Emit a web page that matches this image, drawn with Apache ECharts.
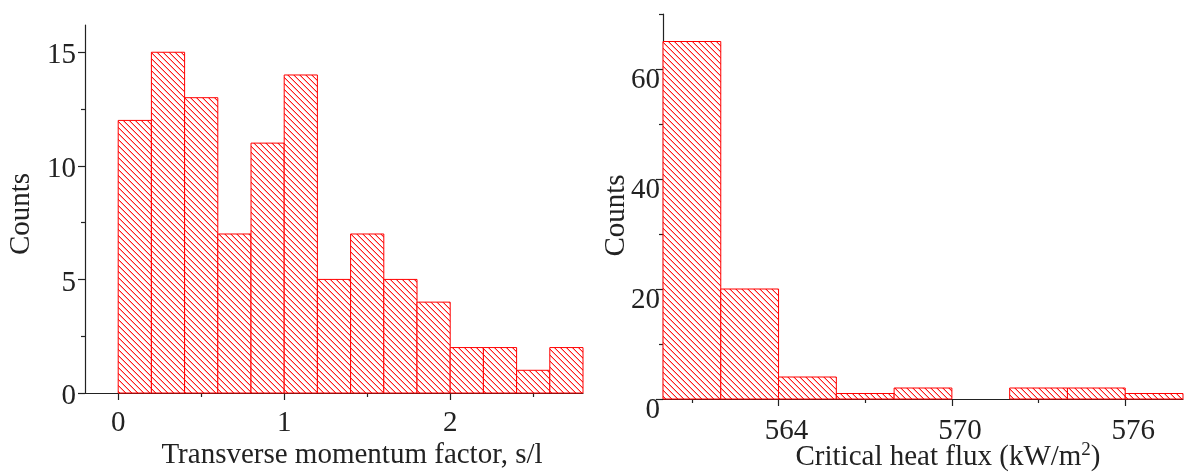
<!DOCTYPE html>
<html>
<head>
<meta charset="utf-8">
<script src="https://cdn.jsdelivr.net/npm/echarts@6/dist/echarts.min.js"></script>
<style>html,body{margin:0;padding:0;background:#fff}#c{width:1184px;height:473px}</style>
</head>
<body>
<div id="c"></div>
<script>
// ---- Data ----
const leftBinEdges = [0, 0.2, 0.4, 0.6, 0.8, 1.0, 1.2, 1.4, 1.6, 1.8, 2.0, 2.2, 2.4, 2.6, 2.8];
const leftCounts = [12, 15, 13, 7, 11, 14, 5, 7, 5, 4, 2, 2, 1, 2];
const rightBinEdges = [560, 562, 564, 566, 568, 570, 572, 574, 576, 578];
const rightCounts = [65, 20, 4, 1, 2, 0, 2, 2, 1];

const leftXTicks = [0, 1, 2];
const leftXMinor = [0.5, 1.5, 2.5];
const leftYTicks = [0, 5, 10, 15];
const leftYMinor = [2.5, 7.5, 12.5];
const rightXTicks = [564, 570, 576];
const rightXMinor = [561, 567, 573];
const rightYTicks = [0, 20, 40, 60];
const rightYMinor = [10, 30, 50, 70];

const leftXTitle = 'Transverse momentum factor, s/l';
const rightXTitle = 'Critical heat flux (kW/m{sup|2})';
const yTitle = 'Counts';

// ---- Build ----
function binData(edges, counts) {
  return counts.map((c, i) => [edges[i], edges[i + 1], c]);
}

function makeHatch() {
  const s = 6;
  const cv = document.createElement('canvas');
  cv.width = s; cv.height = s;
  const ctx = cv.getContext('2d');
  ctx.fillStyle = '#ffffff';
  ctx.fillRect(0, 0, s, s);
  for (let i = 0; i < s; i++) {
    ctx.fillStyle = '#ff1a1a';
    ctx.fillRect(i, (i + 3) % s, 1, 1);
    ctx.fillStyle = '#ffb0b0';
    ctx.fillRect(i, (i + 4) % s, 1, 1);
  }
  return cv;
}
const hatch = { image: makeHatch(), repeat: 'repeat' };

const font = 'Liberation Serif';
const axisColor = '#222';
const textColor = '#222';

function renderBin(params, api) {
  const v2 = api.value(2);
  if (!v2) return null;
  const p0 = api.coord([api.value(0), 0]);
  const p1 = api.coord([api.value(1), v2]);
  return {
    type: 'rect',
    shape: { x: p0[0], y: p1[1], width: p1[0] - p0[0], height: p0[1] - p1[1] },
    style: { fill: hatch, stroke: '#ff0000', lineWidth: 1 }
  };
}

function mainX(gridIndex, min, max, ticks, labelMargin, labelPad, name, nameGap, padLeft) {
  return {
    type: 'value', gridIndex, min, max, position: 'bottom',
    axisLine: { show: true, onZero: false, lineStyle: { color: axisColor, width: 1.2 } },
    axisTick: { show: true, length: 7, customValues: ticks, lineStyle: { color: axisColor, width: 1.2 } },
    axisLabel: { show: true, customValues: ticks, margin: labelMargin, padding: [0, 0, 0, labelPad],
                 color: textColor, fontFamily: font, fontSize: 29 },
    splitLine: { show: false },
    name, nameLocation: 'middle', nameGap, nameMoveOverlap: false,
    nameTextStyle: {
      color: textColor, fontFamily: font, fontSize: 29, padding: [0, 0, 0, padLeft],
      rich: { sup: { fontFamily: font, fontSize: 19, color: textColor, padding: [0, 0, 14, 0], verticalAlign: 'bottom' } }
    }
  };
}
function minorX(gridIndex, min, max, ticks) {
  return {
    type: 'value', gridIndex, min, max, position: 'bottom',
    axisLine: { show: false, onZero: false },
    axisTick: { show: true, length: 4, customValues: ticks, lineStyle: { color: axisColor, width: 1.2 } },
    axisLabel: { show: false }, splitLine: { show: false }
  };
}
function mainY(gridIndex, min, max, ticks, labelMargin, labelPadTop, nameGap, padRight) {
  return {
    type: 'value', gridIndex, min, max, position: 'left',
    axisLine: { show: true, onZero: false, lineStyle: { color: axisColor, width: 1.2 } },
    axisTick: { show: true, length: 7, customValues: ticks, lineStyle: { color: axisColor, width: 1.2 } },
    axisLabel: {
      show: true, customValues: ticks, margin: labelMargin,
      formatter: v => '{a|' + v + '}',
      rich: { a: { color: textColor, fontFamily: font, fontSize: 29, padding: [labelPadTop, 0, 0, 0] } }
    },
    splitLine: { show: false },
    name: yTitle, nameLocation: 'middle', nameGap, nameRotate: 90, nameMoveOverlap: false,
    nameTextStyle: { color: textColor, fontFamily: font, fontSize: 29, padding: [0, padRight, 0, 0] }
  };
}
function minorY(gridIndex, min, max, ticks) {
  return {
    type: 'value', gridIndex, min, max, position: 'left',
    axisLine: { show: false, onZero: false },
    axisTick: { show: true, length: 4, customValues: ticks, lineStyle: { color: axisColor, width: 1.2 } },
    axisLabel: { show: false }, splitLine: { show: false }
  };
}

const chart = echarts.init(document.getElementById('c'), null, { renderer: 'canvas' });
chart.setOption({
  animation: false,
  backgroundColor: '#ffffff',
  grid: [
    { left: 85, top: 25, width: 498, height: 368, outerBoundsMode: 'none', containLabel: false },
    { left: 663, top: 14, width: 520, height: 385, outerBoundsMode: 'none', containLabel: false }
  ],
  xAxis: [
    mainX(0, -0.2, 2.8, leftXTicks, 16, 0, leftXTitle, 48, 36),
    minorX(0, -0.2, 2.8, leftXMinor),
    mainX(1, 560, 578, rightXTicks, 18, 16, rightXTitle, 42, 50),
    minorX(1, 560, 578, rightXMinor)
  ],
  yAxis: [
    mainY(0, 0, 16.2, leftYTicks, 9, 7, 49, 10),
    minorY(0, 0, 16.2, leftYMinor),
    mainY(1, 0, 70, rightYTicks, 3, 22, 32, 18),
    minorY(1, 0, 70, rightYMinor)
  ],
  series: [
    { type: 'custom', xAxisIndex: 0, yAxisIndex: 0, renderItem: renderBin,
      encode: { x: [0, 1], y: 2 }, data: binData(leftBinEdges, leftCounts) },
    { type: 'custom', xAxisIndex: 2, yAxisIndex: 2, renderItem: renderBin,
      encode: { x: [0, 1], y: 2 }, data: binData(rightBinEdges, rightCounts) }
  ]
});
</script>
</body>
</html>
